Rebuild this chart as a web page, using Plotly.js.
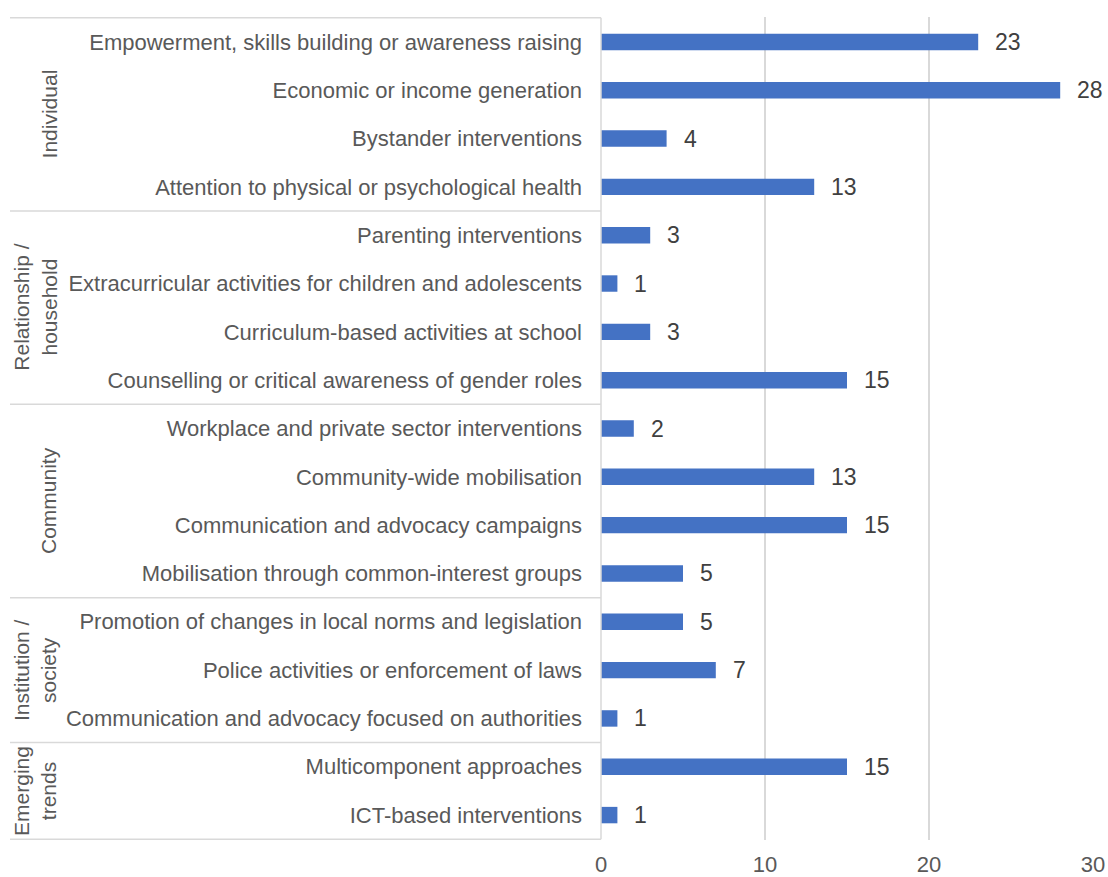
<!DOCTYPE html>
<html>
<head>
<meta charset="utf-8">
<script src="https://cdn.plot.ly/plotly-3.0.1.min.js"></script>
<style>html,body{margin:0;padding:0;background:#fff;}#chart{width:1108px;height:877px;}</style>
</head>
<body>
<div id="chart"></div>
<script>
const categories = [
  "Empowerment, skills building or awareness raising",
  "Economic or income generation",
  "Bystander interventions",
  "Attention to physical or psychological health",
  "Parenting interventions",
  "Extracurricular activities for children and adolescents",
  "Curriculum-based activities at school",
  "Counselling or critical awareness of gender roles",
  "Workplace and private sector interventions",
  "Community-wide mobilisation",
  "Communication and advocacy campaigns",
  "Mobilisation through common-interest groups",
  "Promotion of changes in local norms and legislation",
  "Police activities or enforcement of laws",
  "Communication and advocacy focused on authorities",
  "Multicomponent approaches",
  "ICT-based interventions"
];
const values = [23, 28, 4, 13, 3, 1, 3, 15, 2, 13, 15, 5, 5, 7, 1, 15, 1];
const groupNames = ["Individual", "Relationship /<br>household", "Community", "Institution /<br>society", "Emerging<br>trends"];
const groupSizes = [4, 4, 4, 3, 2];
const xTicks = [0, 10, 20, 30];

const N = categories.length;
const axisColor = "#d9d9d9";
const textColor = "#595959";
const fontFam = "Liberation Sans, Arial, sans-serif";
const leftPx = 10, plotLeft = 601, plotW = 492;
const xPaperLeft = (leftPx - plotLeft) / plotW;

const shapes = [];
const annotations = [];
let start = 0;
const bounds = [-0.5];
groupSizes.forEach(s => { start += s; bounds.push(start - 0.5); });
bounds.forEach(b => {
  shapes.push({type: "line", xref: "paper", yref: "y", x0: xPaperLeft, x1: 0, y0: b, y1: b,
    line: {color: axisColor, width: 1.5}, layer: "below"});
});
shapes.push({type: "line", xref: "paper", yref: "y", x0: 0, x1: 0, y0: -0.5, y1: N - 0.5,
  line: {color: axisColor, width: 1.5}});
start = 0;
groupNames.forEach((g, i) => {
  const mid = start + (groupSizes[i] - 1) / 2;
  start += groupSizes[i];
  const twoLine = g.indexOf("<br>") >= 0;
  annotations.push({xref: "paper", yref: "y", x: ((twoLine ? 35 : 49) - plotLeft) / plotW, y: mid, text: g,
    textangle: -90, showarrow: false, xanchor: "center", yanchor: "middle",
    font: {family: fontFam, size: 21, color: textColor}});
});
categories.forEach((c, i) => {
  annotations.push({xref: "x", yref: "y", x: values[i], y: c, text: String(values[i]),
    showarrow: false, xanchor: "left", yanchor: "middle", xshift: 15,
    font: {family: fontFam, size: 23, color: "#404040"}});
});

const trace = {
  type: "bar", orientation: "h", y: categories, x: values,
  marker: {color: "#4472c4"}, width: 0.34, hoverinfo: "x+y"
};

const layout = {
  width: 1108, height: 877,
  margin: {l: 601, r: 15, t: 17, b: 37, pad: 0},
  paper_bgcolor: "#fff", plot_bgcolor: "#fff",
  showlegend: false,
  font: {family: fontFam, color: textColor},
  xaxis: {range: [0, 30], tickvals: xTicks, showgrid: true, gridcolor: axisColor, gridwidth: 1.5,
    zeroline: false, showline: false, ticks: "", tickfont: {size: 22, color: textColor},
    ticklabelstandoff: 9, fixedrange: true},
  yaxis: {type: "category", autorange: "reversed", showgrid: false, zeroline: false, showline: false,
    ticks: "", tickfont: {size: 22, color: textColor}, ticklabelstandoff: 18, fixedrange: true},
  shapes: shapes,
  annotations: annotations
};

Plotly.newPlot("chart", [trace], layout, {displayModeBar: false, staticPlot: true});
</script>
</body>
</html>
